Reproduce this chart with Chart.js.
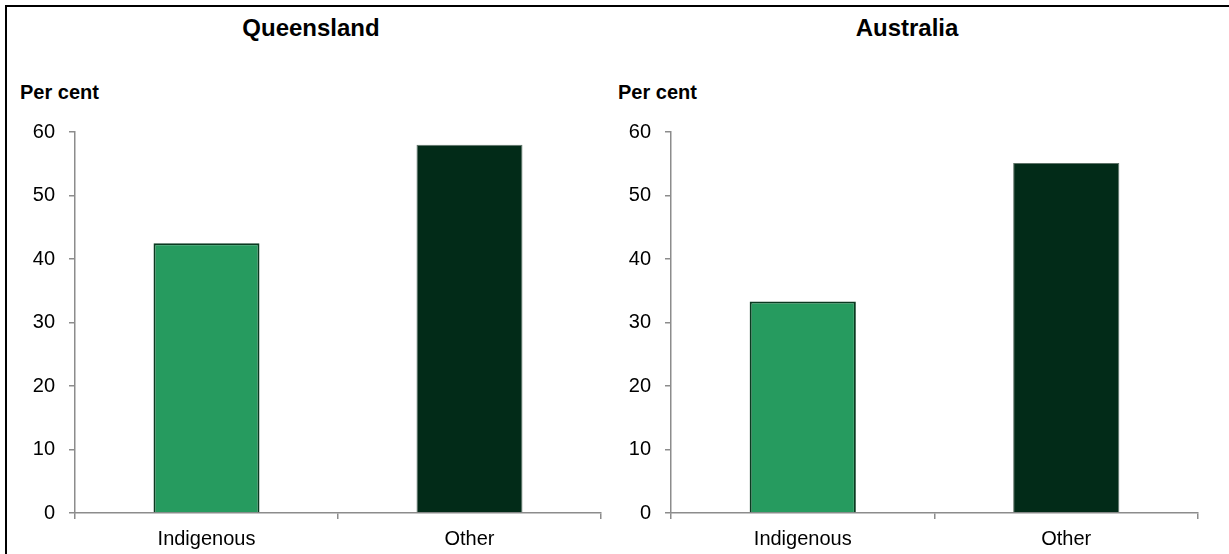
<!DOCTYPE html>
<html>
<head>
<meta charset="utf-8">
<script src="https://cdn.jsdelivr.net/npm/chart.js@4/dist/chart.umd.min.js"></script>
<style>
body{margin:0;width:1229px;height:554px;overflow:hidden;background:#fff;position:relative;font-family:"Liberation Sans",Arial,sans-serif}
.frame{position:absolute;left:5px;top:5px;width:1400px;height:700px;border:2px solid #000}
.title{position:absolute;top:16px;font-size:24px;line-height:24px;font-weight:bold;color:#000;transform:translateX(-50%);white-space:nowrap}
.unit{position:absolute;top:82px;font-size:20px;line-height:20px;font-weight:bold;color:#000;white-space:nowrap}
canvas{position:absolute;top:106px}
</style>
</head>
<body>
<div class="frame"></div>
<div class="title" style="left:311px">Queensland</div>
<div class="title" style="left:907px">Australia</div>
<div class="unit" style="left:20px">Per cent</div>
<div class="unit" style="left:618px">Per cent</div>
<canvas id="qld" width="610" height="448" style="left:0px"></canvas>
<canvas id="aus" width="619" height="448" style="left:610px"></canvas>
<script>
const categories=["Indigenous","Other"]
const qldValues=[42.5,58.0]
const ausValues=[33.3,55.1]
const barColors=["#269b5f","#022b18"]
const barBorders=["#0a3a20","#5f7368"]

const axisGrey="#8c8c8c"

function makeChart(id,values,yWidth,padRight){

new Chart(document.getElementById(id),{

type:"bar",

data:{
labels:categories,
datasets:[{
data:values,
backgroundColor:barColors,
borderColor:barBorders,
borderWidth:[2,1],
categoryPercentage:1,
barPercentage:0.403
}]
},

options:{
responsive:false,
animation:false,
layout:{padding:{top:17,right:padRight,left:0,bottom:0}},
plugins:{legend:{display:false},tooltip:{enabled:false}},
scales:{
x:{
grid:{drawOnChartArea:false,tickLength:6,color:axisGrey,lineWidth:1.5},
border:{color:axisGrey,width:1.5},
ticks:{color:"#000",padding:8,font:{family:"Liberation Sans",size:20}},
afterFit:s=>{s.height=41}
},
y:{
min:0,
max:60,
ticks:{stepSize:10,color:"#000",padding:14,font:{family:"Liberation Sans",size:20}},
grid:{drawOnChartArea:false,tickLength:6,color:axisGrey,lineWidth:1.5},
border:{color:axisGrey,width:1.5},
afterFit:s=>{s.width=yWidth}
}
}
}

})

}

makeChart("qld",qldValues,75,9)
makeChart("aus",ausValues,61,31)
</script>
</body>
</html>
